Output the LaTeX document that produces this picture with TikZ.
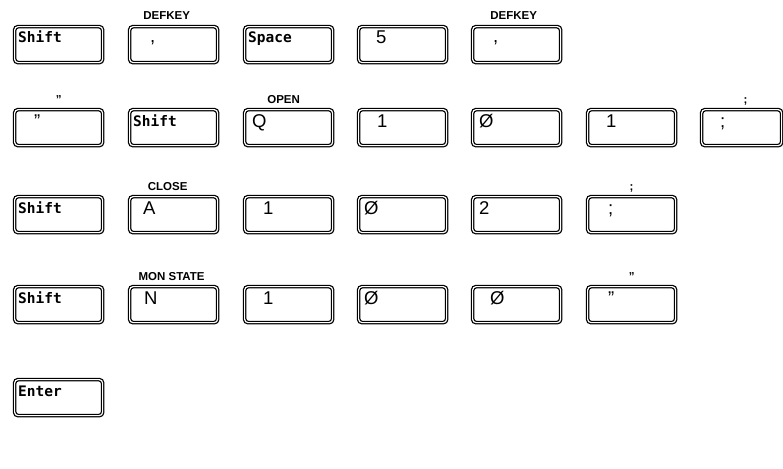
\documentclass[tikz,border=0pt]{standalone}
\usepackage{fontspec}
\setmainfont{Liberation Sans}
\newfontfamily\keymono{DejaVu Sans Mono}
\begin{document}
\begin{tikzpicture}[x=1pt,y=-1pt,
  keybox/.style={draw, line width=1.25pt, double, double distance=1.2pt, rounded corners=3.5pt,
    minimum width=88pt, minimum height=36pt, inner sep=0pt, anchor=north west},
  keytxt/.style={font=\fontsize{18.5}{19}\selectfont, inner sep=0pt, anchor=base west},
  monotxt/.style={font=\keymono\bfseries\fontsize{14.5}{16}\selectfont, inner sep=0pt, anchor=base west},
  toplbl/.style={font=\bfseries\fontsize{11.5}{12}\selectfont, inner sep=0pt, anchor=base},
]
\useasboundingbox (0,0) rectangle (783,468);
% ---- row 1
\node[keybox] (k11) at (14,26) {};
\node[keybox] (k12) at (129,26) {};
\node[keybox] (k13) at (244,26) {};
\node[keybox] (k14) at (358,26) {};
\node[keybox] (k15) at (472,26) {};
\node[monotxt] (t11) at ([xshift=4pt,yshift=-17pt]k11.north west) {Shift};
\node[keytxt] (t12) at ([xshift=21pt,yshift=-17pt]k12.north west) {,};
\node[monotxt] (t13) at ([xshift=4pt,yshift=-17pt]k13.north west) {Space};
\node[keytxt] (t14) at ([xshift=18pt,yshift=-18pt]k14.north west) {5};
\node[keytxt] (t15) at ([xshift=21pt,yshift=-17pt]k15.north west) {,};
\node[toplbl] (l12) at ([xshift=-7pt,yshift=6pt]k12.north) {DEFKEY};
\node[toplbl] (l15) at ([xshift=-3pt,yshift=6pt]k15.north) {DEFKEY};
% ---- row 2
\node[keybox] (k21) at (14,109) {};
\node[keybox] (k22) at (129,109) {};
\node[keybox] (k23) at (244,109) {};
\node[keybox] (k24) at (358,109) {};
\node[keybox] (k25) at (472,109) {};
\node[keybox] (k26) at (587,109) {};
\node[keybox, minimum width=80pt] (k27) at (701,109) {};
\node[keytxt] (t21) at ([xshift=20pt,yshift=-18pt]k21.north west) {"};
\node[monotxt] (t22) at ([xshift=4pt,yshift=-17pt]k22.north west) {Shift};
\node[keytxt] (t23) at ([xshift=8pt,yshift=-18pt]k23.north west) {Q};
\node[keytxt] (t24) at ([xshift=19pt,yshift=-18pt]k24.north west) {1};
\node[keytxt] (t25) at ([xshift=7pt,yshift=-18pt]k25.north west) {Ø};
\node[keytxt] (t26) at ([xshift=19pt,yshift=-18pt]k26.north west) {1};
\node[keytxt] (t27) at ([xshift=19pt,yshift=-18pt]k27.north west) {;};
\node[toplbl] (l21) at ([yshift=6pt]k21.north) {"};
\node[toplbl] (l23) at ([xshift=-5pt,yshift=6pt]k23.north) {OPEN};
\node[toplbl] (l27) at ([xshift=4pt,yshift=6pt]k27.north) {;};
% ---- row 3
\node[keybox] (k31) at (14,196) {};
\node[keybox] (k32) at (129,196) {};
\node[keybox] (k33) at (244,196) {};
\node[keybox] (k34) at (358,196) {};
\node[keybox] (k35) at (472,196) {};
\node[keybox] (k36) at (587,196) {};
\node[monotxt] (t31) at ([xshift=4pt,yshift=-17pt]k31.north west) {Shift};
\node[keytxt] (t32) at ([xshift=14pt,yshift=-18pt]k32.north west) {A};
\node[keytxt] (t33) at ([xshift=19pt,yshift=-18pt]k33.north west) {1};
\node[keytxt] (t34) at ([xshift=6pt,yshift=-18pt]k34.north west) {Ø};
\node[keytxt] (t35) at ([xshift=7pt,yshift=-18pt]k35.north west) {2};
\node[keytxt] (t36) at ([xshift=21pt,yshift=-18pt]k36.north west) {;};
\node[toplbl] (l32) at ([xshift=-6pt,yshift=6pt]k32.north) {CLOSE};
\node[toplbl] (l36) at ([yshift=6pt]k36.north) {;};
% ---- row 4
\node[keybox] (k41) at (14,286) {};
\node[keybox] (k42) at (129,286) {};
\node[keybox] (k43) at (244,286) {};
\node[keybox] (k44) at (358,286) {};
\node[keybox] (k45) at (472,286) {};
\node[keybox] (k46) at (587,286) {};
\node[monotxt] (t41) at ([xshift=4pt,yshift=-17pt]k41.north west) {Shift};
\node[keytxt] (t42) at ([xshift=15pt,yshift=-18pt]k42.north west) {N};
\node[keytxt] (t43) at ([xshift=19pt,yshift=-18pt]k43.north west) {1};
\node[keytxt] (t44) at ([xshift=6pt,yshift=-18pt]k44.north west) {Ø};
\node[keytxt] (t45) at ([xshift=18pt,yshift=-18pt]k45.north west) {Ø};
\node[keytxt] (t46) at ([xshift=21pt,yshift=-18pt]k46.north west) {"};
\node[toplbl] (l42) at ([xshift=-2pt,yshift=6pt]k42.north) {MON STATE};
\node[toplbl] (l46) at ([yshift=6pt]k46.north) {"};
% ---- row 5
\node[keybox] (k51) at (14,379) {};
\node[monotxt] (t51) at ([xshift=4pt,yshift=-17pt]k51.north west) {Enter};
\end{tikzpicture}
\end{document}
